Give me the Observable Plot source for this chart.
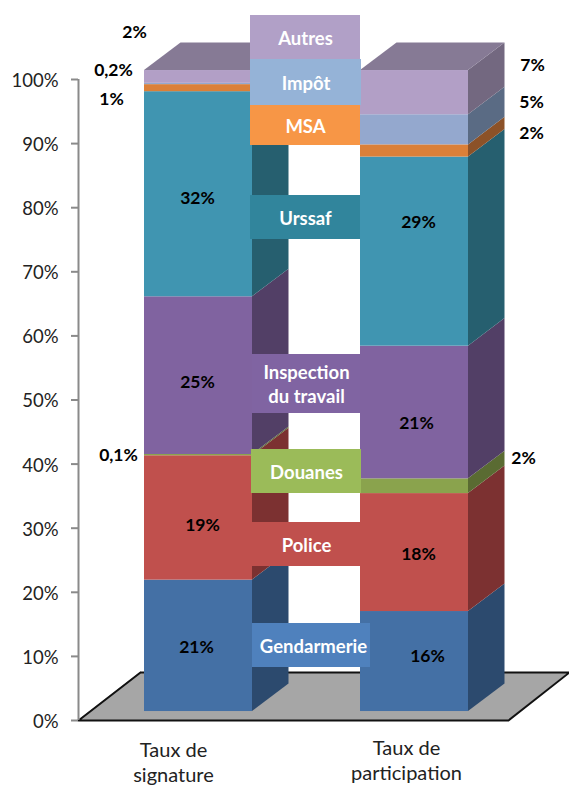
<!DOCTYPE html>
<html><head><meta charset="utf-8">
<script src="https://cdn.jsdelivr.net/npm/d3@7"></script>
<script src="https://cdn.jsdelivr.net/npm/@observablehq/plot@0.6"></script>
<style>html,body{margin:0;padding:0;background:#fff}svg{display:block}</style>
</head><body><div id="chart"></div>
<script>
const seriesNames = ["Gendarmerie","Police","Douanes","Inspection du travail","Urssaf","MSA","Impôt","Autres"];
const signature = [20.5,19.4,0.2,24.6,32.0,1.1,0.2,2.0];
const participation = [15.6,18.4,2.3,20.7,29.5,1.9,4.7,6.9];
const frontColors = ["#4470A5","#C0504D","#8AA34D","#8063A0","#4095B1","#DB8038","#94A8CE","#B29FC6"];
const sideColors = ["#2C4A6E","#7C3131","#5A6B32","#523F66","#265F6F","#8C5228","#5A6B84","#736880"];
const topFace = "#867A95";
const floorColor = "#A6A6A6";

// layout, in scale units
const bars = [{name:"Taux de signature", values:signature, x1:144, x2:252},
              {name:"Taux de participation", values:participation, x1:360, x2:468}];
const lift = 1.4, depthX = 36.5, depthY = 4.3;
const py = p => (720 - p) / 6.41;   // page row → percent scale

const fronts = [], sides = [], tops = [];
bars.forEach((b, k) => {
  let lo = lift;
  b.values.forEach((v, i) => {
    const hi = lo + v;
    fronts.push({x1:b.x1, x2:b.x2, y1:lo, y2:hi, fill:frontColors[i]});
    sides.push({id:k+"-"+i, x:b.x2, y1:lo, y2:hi, fill:sideColors[i]});
    sides.push({id:k+"-"+i, x:b.x2+depthX, y1:lo+depthY, y2:hi+depthY, fill:sideColors[i]});
    lo = hi;
  });
  const t = lo;
  [[b.x1,t,t],[b.x1+depthX,t,t+depthY],[b.x2,t,t+depthY],[b.x2+depthX,t+depthY,t+depthY]]
    .forEach(([x,y1,y2]) => tops.push({id:k, x, y1, y2}));
});

const floorPts = [[78,0,0],[78+62,0,7.5],[508,0,7.5],[569,7.5,7.5]].map(([x,y1,y2]) => ({x,y1,y2}));
const floorOutline = [[140,7.5],[569,7.5],[508,0],[78,0],[140,7.5]].map(([x,y]) => ({x,y}));

const callouts = [
  {t:"Autres", x1:250,x2:360,top:15,bot:59,fill:"#B1A0C7"},
  {t:"Impôt", x1:250,x2:361,top:59,bot:105,fill:"#95B3D7"},
  {t:"MSA", x1:250,x2:360,top:105,bot:145,fill:"#F79646"},
  {t:"Urssaf", x1:250,x2:360,top:195,bot:239,fill:"#31859C"},
  {t:"Inspection\ndu travail", x1:252,x2:360,top:354,bot:413,fill:"#8064A2"},
  {t:"Douanes", x1:251,x2:361,top:449,bot:493,fill:"#9BBB59"},
  {t:"Police", x1:252,x2:360,top:522,bot:566,fill:"#C0504D"},
  {t:"Gendarmerie", x1:252,x2:370,top:623,bot:667,fill:"#4F81BD"}
].map(d => ({...d, y1:py(d.bot), y2:py(d.top), x:(d.x1+d.x2)/2 + (d.t==="Gendarmerie"?2:0), y:py((d.top+d.bot)/2 - 1)}));

const valueLabels = [
  ["2%",134,32],["0,2%",113,70],["1%",111,99],["32%",197,198],["25%",197,382],["0,1%",118,455],["19%",202,525],["21%",196,647],
  ["7%",532,65],["5%",531,102],["2%",531,133],["29%",418,222],["21%",416,423],["2%",523,458],["18%",418,554],["16%",427,656]
].map(([t,x,p]) => ({t,x,y:py(p)}));

const catLabels = [{t:"Taux de\nsignature",x:173,y:py(760.5)},{t:"Taux de\nparticipation",x:406,y:py(759)}];

const fnt = "Lato, Carlito, sans-serif";
const chart = Plot.plot({
  width:569, height:785, marginLeft:78, marginRight:0, marginTop:0, marginBottom:0,
  style:{background:"#fff", fontFamily:fnt, overflow:"visible"},
  x:{domain:[78,569], range:[78,569], axis:null},
  y:{domain:[0,100], range:[720,79], axis:null},
  color:{type:"identity"},
  marks:[
    Plot.area(floorPts,{x1:"x",y1:"y1",y2:"y2",fill:floorColor}),
    Plot.line(floorOutline,{x:"x",y:"y",stroke:"#111",strokeWidth:2}),
    Plot.ruleX([78],{y1:0,y2:100,stroke:"#8a8a8a",strokeWidth:2}),
    Plot.ruleY(d3.range(0,101,10),{x1:71,x2:78,stroke:"#8a8a8a",strokeWidth:2}),
    Plot.axisY({anchor:"left",ticks:d3.range(0,101,10),tickFormat:d=>d+"%",tickSize:0,tickPadding:20,
      fontSize:18.5,fill:"#222",dy:1.5,label:null,marginLeft:78}),
    Plot.area(sides,{x1:"x",y1:"y1",y2:"y2",z:"id",fill:"fill"}),
    Plot.area(tops,{x1:"x",y1:"y1",y2:"y2",z:"id",fill:topFace}),
    Plot.rect(fronts,{x1:"x1",x2:"x2",y1:"y1",y2:"y2",fill:"fill"}),
    Plot.rect(callouts,{x1:"x1",x2:"x2",y1:"y1",y2:"y2",fill:"fill"}),
    Plot.text(callouts,{x:"x",y:"y",text:"t",fill:"#fff",fontWeight:700,fontSize:18.5,lineHeight:1.35,textAnchor:"middle"}),
    Plot.text(valueLabels,{x:"x",y:"y",text:"t",fill:"#000",fontWeight:700,fontSize:17.5}),
    Plot.text(catLabels,{x:"x",y:"y",text:"t",fill:"#222",fontSize:20,lineHeight:1.25})
  ]
});
document.getElementById("chart").appendChild(chart);
</script></body></html>
